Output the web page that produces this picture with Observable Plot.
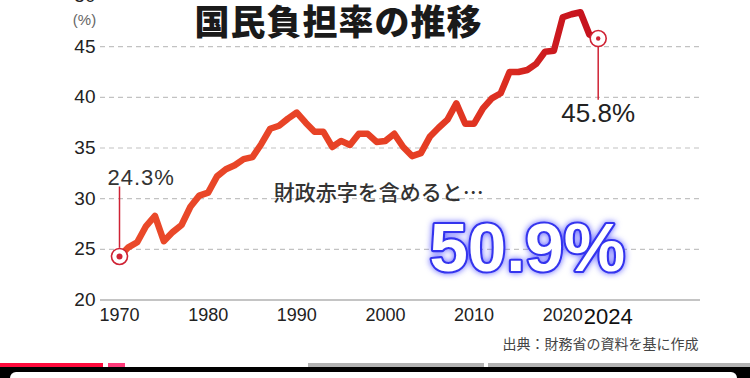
<!DOCTYPE html>
<html><head><meta charset="utf-8">
<script src="https://cdn.jsdelivr.net/npm/d3@7"></script>
<script src="https://cdn.jsdelivr.net/npm/@observablehq/plot@0.6"></script>
<style>
html,body{margin:0;padding:0;background:#fff;}
#wrap{position:relative;width:750px;height:378px;overflow:hidden;background:#fff;}
#wrap svg{position:absolute;left:0;top:0;}
.bar{position:absolute;top:363px;height:4px;}
.black{position:absolute;left:0;top:367px;width:750px;height:11px;background:#000;}
.card{position:absolute;left:10px;top:372px;width:727px;height:6px;background:#fff;border-radius:14px 14px 0 0;}
</style></head>
<body><div id="wrap"></div>
<script>
const years = [1970,1971,1972,1973,1974,1975,1976,1977,1978,1979,
  1980,1981,1982,1983,1984,1985,1986,1987,1988,1989,
  1990,1991,1992,1993,1994,1995,1996,1997,1998,1999,
  2000,2001,2002,2003,2004,2005,2006,2007,2008,2009,
  2010,2011,2012,2013,2014,2015,2016,2017,2018,2019,
  2020,2021,2022,2023,2024];
const burden = [24.3,25.2,25.7,27.3,28.3,25.8,26.7,27.4,29.2,30.3,
  30.6,32.2,32.9,33.3,33.9,34.1,35.4,36.9,37.2,37.9,
  38.5,37.5,36.6,36.6,35.1,35.7,35.3,36.4,36.4,35.6,
  35.7,36.4,35.1,34.2,34.5,36.1,37.0,37.8,39.4,37.4,
  37.4,38.9,39.9,40.4,42.5,42.5,42.7,43.3,44.5,44.6,
  47.9,48.2,48.4,46.2,45.8];
const yTicks = [20,25,30,35,40,45,50];
const xTicks = [1970,1980,1990,2000,2010,2020];
const lastTick = [2024];
const titleText = "国民負担率の推移";
const unitLabel = "(%)";
const startLabel = "24.3%";
const endLabel = "45.8%";
const deficitNote = "財政赤字を含めると…";
const deficitValue = "50.9%";
const sourceText = "出典：財務省の資料を基に作成";

const data = years.map((year, i) => ({year, value: burden[i]}));
const first = data[0];
const last = data[data.length - 1];

function gradientDefs() {
  const defs = d3.create("svg:defs");
  const g = defs.append("linearGradient").attr("id", "burdenGrad")
    .attr("x1", "0").attr("x2", "1").attr("y1", "0").attr("y2", "0");
  [[0, "#ea4a2a"], [0.62, "#e63f24"], [0.8, "#dc2e21"], [0.9, "#cc1a1e"], [1, "#c4111e"]]
    .forEach(([o, c]) => g.append("stop").attr("offset", o).attr("stop-color", c));
  return defs.node();
}

const red = "#cf2234";
const narrow = "'Liberation Sans Narrow', 'Liberation Sans', Arial, sans-serif";
const cjk = "'Noto Sans CJK JP', sans-serif";
const plot = Plot.plot({
  width: 750, height: 360,
  marginLeft: 100, marginRight: 50, marginTop: 0, marginBottom: 60,
  style: {fontFamily: "'Liberation Sans', Arial, sans-serif", background: "transparent"},
  x: {domain: [1970, 2024], range: [119, 597.7]},
  y: {domain: [20, 50], range: [299.5, -4.5]},
  marks: [
    gradientDefs,
    Plot.ruleY(yTicks.filter(d => d > 20), {stroke: "#c2c2c2", strokeDasharray: "5,4", strokeWidth: 1.2}),
    Plot.ruleY([20], {stroke: "#8a8a8a", strokeWidth: 1.2}),
    Plot.axisY({ticks: yTicks, tickSize: 0, tickPadding: 5, fontSize: 19, fill: "#222", label: null}),
    Plot.axisX({ticks: xTicks, tickSize: 0, tickPadding: 8, fontSize: 18, fill: "#222", tickFormat: d => String(d), label: null, fontFamily: narrow}),
    Plot.text(lastTick, {x: d => d, y: 20, text: d => String(d), dy: 8, dx: 10, lineAnchor: "top", fontSize: 22, fill: "#111", fontFamily: narrow}),
    Plot.text([unitLabel], {frameAnchor: "top-left", textAnchor: "middle", dx: -16, dy: 14, fontSize: 15, fill: "#666"}),
    Plot.text([titleText], {frameAnchor: "top-left", textAnchor: "start", dx: 94, dy: 34, lineAnchor: "bottom", fontSize: 35, fontWeight: 900, fill: "#1a1a1a", fontFamily: cjk}),
    Plot.line(data, {x: "year", y: "value", stroke: "url(#burdenGrad)", strokeWidth: 6.5, strokeLinejoin: "round", strokeLinecap: "round"}),
    Plot.ruleX([first], {x: "year", y1: d => d.value + 0.8, y2: d => d.value + 6.85, stroke: red, strokeWidth: 1.5}),
    Plot.ruleX([last], {x: "year", y1: d => d.value - 0.8, y2: d => d.value - 6.1, stroke: red, strokeWidth: 1.5}),
    Plot.dot([first, last], {x: "year", y: "value", r: 8, fill: "white", stroke: red, strokeWidth: 1.6}),
    Plot.dot([first], {x: "year", y: "value", r: 3, fill: red}),
    Plot.dot([last], {x: "year", y: "value", r: 2.2, fill: red}),
    Plot.text([first], {x: "year", y: d => d.value + 7.0, text: () => startLabel, textAnchor: "start", dx: -12, lineAnchor: "bottom", fontSize: 22, fill: "#333"}),
    Plot.text([last], {x: "year", y: d => d.value - 8.28, text: () => endLabel, textAnchor: "middle", dx: 0, lineAnchor: "bottom", fontSize: 26, fill: "#222"}),
    Plot.text([deficitNote], {x: 1987.4, y: 29.87, textAnchor: "start", lineAnchor: "bottom", fontSize: 21, fill: "#333", fontWeight: 500, fontFamily: cjk}),
    Plot.text([deficitValue], {x: 2016.0, y: 22.9, textAnchor: "middle", lineAnchor: "bottom", fontSize: 69, fontWeight: "bold",
      fill: "white", stroke: "#3434ee", strokeWidth: 4.2, paintOrder: "stroke"}),
    Plot.text([sourceText], {frameAnchor: "bottom-right", dx: -2, dy: 48, textAnchor: "end", lineAnchor: "bottom", fontSize: 14, fill: "#444", fontFamily: cjk})
  ]
});

const texts = d3.select(plot).selectAll("text");
texts.filter(function() { return this.textContent === deficitValue; })
  .style("filter", "drop-shadow(0 0 3px rgba(80,80,255,0.9))");
texts.filter(function() { return this.textContent === titleText; }).style("letter-spacing", "1px");
texts.filter(function() { return this.textContent === startLabel; }).style("letter-spacing", "1px");

const wrap = document.getElementById("wrap");
wrap.appendChild(plot);
[[0, 103, "#ff0a3c"], [108, 17, "#ff3a7a"], [308, 176, "#b3b3b3"], [488, 262, "#b3b3b3"]].forEach(([l, w, c]) => {
  const b = document.createElement("div");
  b.className = "bar"; b.style.left = l + "px"; b.style.width = w + "px"; b.style.background = c;
  wrap.appendChild(b);
});
const bl = document.createElement("div"); bl.className = "black"; wrap.appendChild(bl);
const cd = document.createElement("div"); cd.className = "card"; wrap.appendChild(cd);
</script>
</body></html>
